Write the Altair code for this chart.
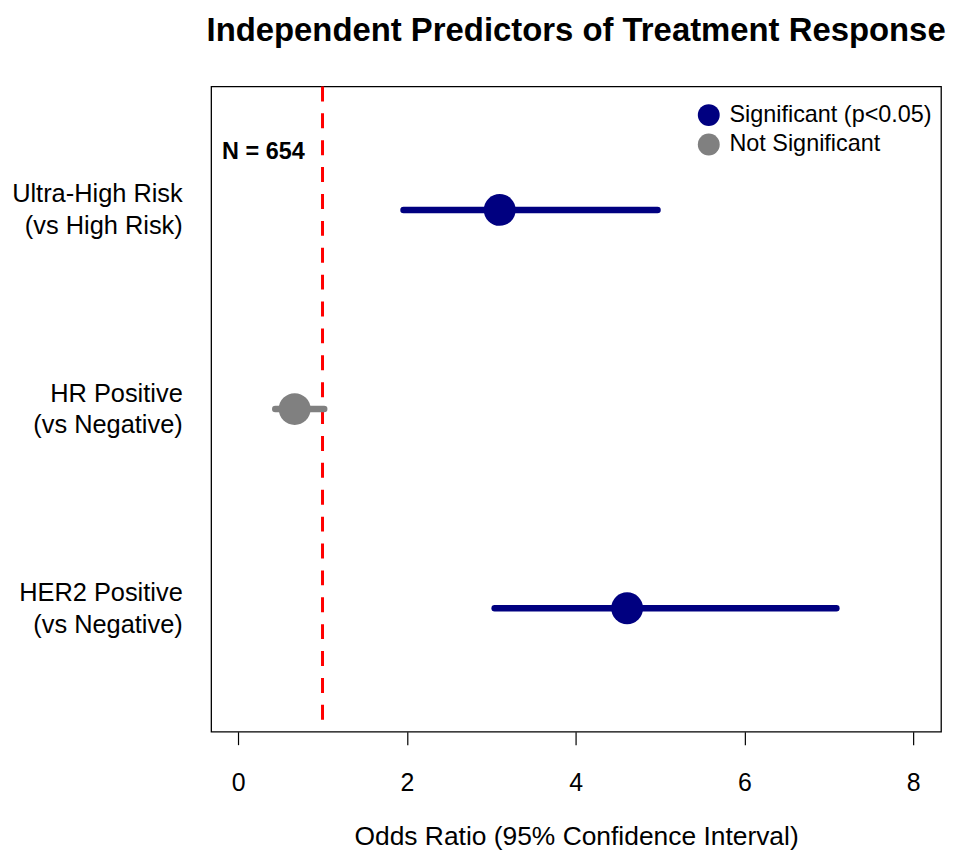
import altair as alt
import pandas as pd

# ---- data ----
predictors = ["Ultra-High Risk", "HR Positive", "HER2 Positive"]
comparisons = ["(vs High Risk)", "(vs Negative)", "(vs Negative)"]
row_pos = [3, 2, 1]
odds_ratio = [3.10, 0.67, 4.61]
ci_low = [1.96, 0.44, 3.04]
ci_high = [4.97, 1.02, 7.09]
significance = ["Significant (p<0.05)", "Not Significant", "Significant (p<0.05)"]
x_ticks = [0, 2, 4, 6, 8]
ref_line = [1]
n_label = ["N = 654"]
n_label_x = [-0.19]
n_label_y = [3.29]

sig_levels = ["Significant (p<0.05)", "Not Significant"]
sig_colors = ["#000080", "#808080"]

df = pd.DataFrame({
    "predictor": predictors,
    "comparison": comparisons,
    "row": row_pos,
    "or": odds_ratio,
    "lo": ci_low,
    "hi": ci_high,
    "sig": significance,
})
ref_df = pd.DataFrame({"x": ref_line})
ann_df = pd.DataFrame({"text": n_label, "x": n_label_x, "y": n_label_y})

FONT = "Liberation Sans"

# y-axis labels (two lines each) built from the data lists
expr = "''"
for r, p, c in zip(row_pos, predictors, comparisons):
    expr = f"datum.value == {r} ? ['{p}', '{c}'] : ({expr})"

x_scale = alt.Scale(domain=[-0.32, 8.33], nice=False, zero=False)
y_scale = alt.Scale(domain=[0.38, 3.62], nice=False, zero=False)

x_axis = alt.Axis(
    values=x_ticks, format="d", title="Odds Ratio (95% Confidence Interval)", grid=False,
    domain=False, ticks=True, tickSize=13, tickColor="black", tickWidth=1.2,
    labelFontSize=25, labelFont=FONT, labelColor="black", labelPadding=26,
    titleFontSize=26.5, titleFont=FONT, titleFontWeight="normal", titleColor="black",
    titlePadding=28,
)
y_axis = alt.Axis(
    values=row_pos, title=None, grid=False, domain=False, ticks=False,
    labelExpr=expr, labelFontSize=25.5, labelFont=FONT, labelColor="black",
    labelPadding=29, labelLineHeight=32, labelBaseline="middle", labelOffset=-16,
    labelLimit=300,
)

color_scale = alt.Scale(domain=sig_levels, range=sig_colors)
legend = alt.Legend(
    title=None, orient="none", legendX=488, legendY=17,
    symbolType="circle", symbolSize=484, symbolStrokeWidth=0,
    symbolOpacity=1, labelFontSize=23.5, labelFont=FONT, labelLimit=400,
    labelColor="black", labelOffset=9, rowPadding=4.5, padding=0,
)

base = alt.Chart(df)

ci = base.mark_rule(strokeWidth=6.5, strokeCap="round").encode(
    x=alt.X("lo:Q", scale=x_scale, axis=x_axis),
    x2="hi:Q",
    y=alt.Y("row:Q", scale=y_scale, axis=y_axis),
    color=alt.Color("sig:N", scale=color_scale, legend=legend),
)

pts = base.mark_circle(size=1024, opacity=1).encode(
    x=alt.X("or:Q", scale=x_scale),
    y=alt.Y("row:Q", scale=y_scale),
    color=alt.Color("sig:N", scale=color_scale, legend=legend),
)

ref = alt.Chart(ref_df).mark_rule(color="#FF0000", strokeWidth=3, strokeDash=[15, 12]).encode(
    x=alt.X("x:Q", scale=x_scale),
)

ann = alt.Chart(ann_df).mark_text(
    font=FONT, fontSize=23.5, fontWeight="bold", align="left", baseline="middle", color="black"
).encode(
    x=alt.X("x:Q", scale=x_scale),
    y=alt.Y("y:Q", scale=y_scale),
    text="text:N",
)

chart = alt.layer(ref, ci, pts, ann).properties(
    width=733,
    height=648,
    title=alt.TitleParams(
        "Independent Predictors of Treatment Response",
        font=FONT, fontSize=33, fontWeight="bold", color="black",
        anchor="middle", offset=37,
    ),
    autosize=alt.AutoSizeParams(type="none"),
    padding={"left": 204, "top": 77, "right": 5, "bottom": 118},
).configure_view(
    stroke="black", strokeWidth=1.3
)

chart.save("out.html", embed_options={"renderer": "svg", "actions": False})
